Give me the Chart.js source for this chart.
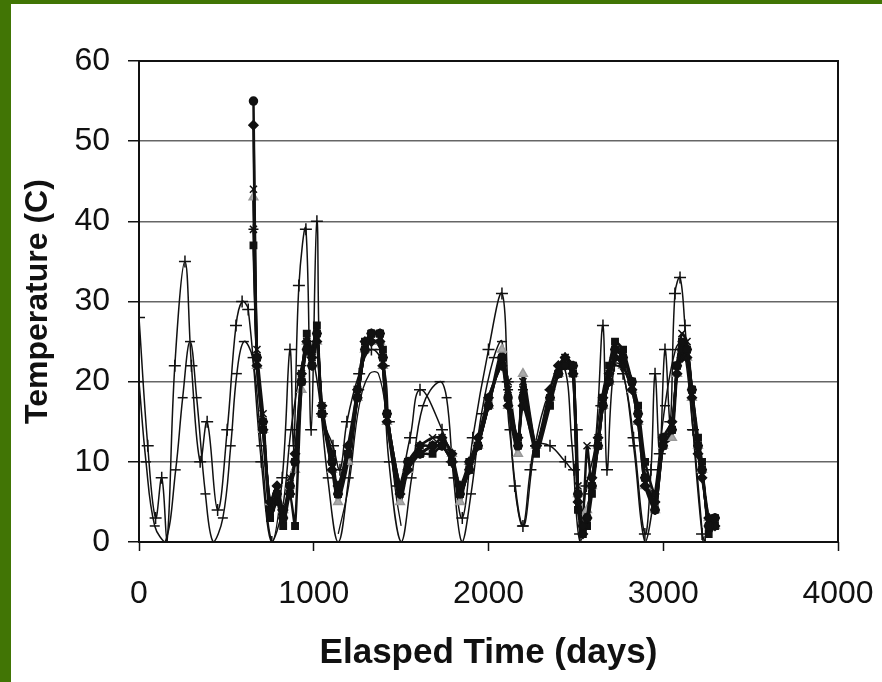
<!DOCTYPE html>
<html>
<head>
<meta charset="utf-8">
<script src="https://cdn.jsdelivr.net/npm/chart.js@4/dist/chart.umd.min.js"></script>
<style>
  html, body { margin: 0; padding: 0; }
  body { background: #417505; width: 882px; height: 682px; overflow: hidden; position: relative; }
  #wrap { position: absolute; left: 11px; top: 4px; width: 871px; height: 678px; background: #fff; }
</style>
</head>
<body>
<div id="wrap"><canvas id="myChart" width="871" height="678"></canvas></div>
<script>
// x axis ticks (days) and y axis ticks (C)
const xTicks = [0, 1000, 2000, 3000, 4000];
const yTicks = [0, 10, 20, 30, 40, 50, 60];

// air temperature (+ markers)
const airDays = [0, 50, 95, 130, 160, 205, 263, 300, 350, 390, 450, 505, 555, 590, 625, 700, 760, 820, 864, 885, 915, 955, 985, 1018, 1047, 1110, 1150, 1190, 1260, 1330, 1400, 1430, 1480, 1551, 1608, 1734, 1790, 1850, 1910, 2000, 2077, 2110, 2150, 2197, 2240, 2272, 2352, 2440, 2490, 2505, 2524, 2560, 2610, 2655, 2678, 2720, 2770, 2830, 2895, 2930, 2953, 2980, 3010, 3040, 3067, 3096, 3124, 3170, 3222, 3240];
const airTemps = [28, 12, 3, 8, 0, 22, 35, 22, 10, 15, 4, 14, 27, 30, 29, 10, 0, 8, 24, 12, 32, 39, 14, 40, 16, 12, 9, 15, 21, 24, 22, 15, 7, 13, 19, 14, 10, 3, 13, 24, 31, 20, 7, 2, 9, 12, 12, 10, 9, 14, 1, 7, 12, 27, 9, 22, 21, 13, 1, 9, 21, 11, 24, 15, 31, 33, 27, 14, 1, 0];

// model prediction (- markers)
const modelDays = [0, 40, 90, 150, 210, 250, 292, 330, 380, 425, 480, 525, 560, 600, 650, 700, 760, 820, 870, 930, 970, 1020, 1080, 1140, 1200, 1260, 1320, 1380, 1430, 1500, 1560, 1625, 1720, 1760, 1800, 1848, 1900, 1960, 2030, 2077, 2120, 2197, 2266, 2350, 2430, 2478, 2524, 2580, 2640, 2700, 2760, 2830, 2896, 2950, 3010, 3070, 3110, 3170, 3228];
const modelTemps = [20, 10, 2, 0, 9, 18, 25, 18, 6, 0, 3, 12, 21, 25, 23, 12, 0, 4, 14, 22, 24, 20, 8, 0, 8, 19, 25, 24, 10, 0, 8, 17, 20, 18, 8, 0, 6, 16, 23, 25, 14, 2, 12, 19, 22, 12, 0, 6, 17, 22, 22, 12, 0, 6, 17, 24, 25, 14, 0];

// second model curve, shallower depth
const model2Days = [1140, 1200, 1260, 1320, 1370, 1420, 1470, 1500];
const model2Temps = [1, 7, 17, 21, 21, 15, 6, 2];

// measured temperatures, one array per sensor
const measDays = [655, 675, 710, 750, 790, 825, 864, 893, 930, 960, 990, 1018, 1047, 1105, 1139, 1196, 1250, 1293, 1330, 1379, 1396, 1419, 1494, 1539, 1608, 1680, 1734, 1791, 1837, 1890, 1940, 2000, 2077, 2112, 2169, 2197, 2272, 2352, 2400, 2438, 2484, 2512, 2540, 2564, 2592, 2627, 2655, 2690, 2724, 2770, 2821, 2856, 2896, 2953, 2999, 3050, 3079, 3107, 3136, 3164, 3199, 3222, 3260, 3296];
const measCircle = [55, 23, 15, 4, 6, 3, 7, 10, 20, 24, 22, 26, 16, 10, 6, 11, 18, 24, 26, 26, 23, 16, 7, 10, 11, 12, 12, 10, 6, 9, 12, 17, 23, 18, 12, 18, 12, 18, 21, 22, 22, 6, 2, 3, 7, 12, 17, 20, 24, 23, 20, 16, 8, 4, 12, 14, 22, 24, 24, 19, 12, 9, 2, 3];
const measDiamond = [52, 22, 14, 5, 7, 4, 6, 11, 21, 25, 23, 25, 17, 9, 7, 12, 19, 25, 25, 25, 22, 15, 6, 9, 12, 12, 13, 11, 7, 10, 13, 18, 22, 17, 13, 17, 12, 19, 22, 23, 21, 5, 1, 3, 8, 13, 18, 21, 23, 22, 19, 15, 7, 5, 13, 15, 21, 23, 23, 18, 11, 8, 3, 2];
const measSquare = [37, 23, 14, 3, 5, 2, 6, 2, 20, 26, 24, 27, 16, 11, 6, 11, 19, 25, 26, 26, 24, 16, 7, 10, 11, 11, 12, 10, 6, 10, 12, 18, 22, 18, 13, 18, 11, 17, 21, 22, 21, 4, 1, 2, 6, 12, 18, 22, 25, 24, 20, 17, 10, 6, 13, 14, 22, 25, 24, 19, 13, 10, 1, 2];
const measTriangle = [43, 22, 14, 5, 6, 4, 7, 9, 19, 25, 24, 25, 16, 9, 5, 10, 18, 24, 25, 25, 22, 15, 5, 9, 11, 12, 12, 11, 5, 10, 12, 17, 24, 17, 11, 21, 12, 18, 21, 22, 21, 6, 3, 4, 7, 12, 17, 20, 23, 22, 19, 15, 7, 4, 12, 13, 21, 24, 23, 18, 12, 9, 3, 2];
const measCross = [44, 24, 16, 4, 6, 3, 8, 10, 21, 25, 23, 26, 17, 10, 6, 11, 18, 24, 26, 26, 23, 16, 6, 10, 12, 13, 13, 11, 6, 9, 12, 17, 23, 20, 12, 20, 12, 18, 21, 23, 22, 7, 3, 12, 7, 13, 17, 21, 24, 23, 20, 16, 8, 5, 12, 14, 22, 26, 25, 19, 12, 9, 2, 3];
const measStar = [39, 23, 15, 4, 6, 3, 7, 10, 20, 24, 22, 26, 16, 10, 6, 11, 18, 24, 26, 26, 23, 16, 7, 10, 11, 12, 12, 10, 6, 9, 12, 17, 23, 19, 12, 19, 12, 18, 21, 23, 22, 6, 2, 3, 7, 12, 17, 20, 24, 23, 20, 16, 8, 4, 12, 14, 22, 24, 24, 19, 12, 9, 2, 3];

function toPoints(days, temps) {
  return days.map((d, i) => ({ x: d, y: temps[i] }));
}

function measured(temps, style, fill, radius) {
  return {
    data: toPoints(measDays, temps),
    showLine: true,
    borderColor: "#111",
    borderWidth: 2.5,
    tension: 0.2,
    pointStyle: style,
    pointRadius: radius,
    pointBackgroundColor: fill,
    pointBorderColor: fill === "#aaa" ? "#999" : "#111",
    pointBorderWidth: 1.5,
  };
}

// plot frame
const framePlugin = {
  id: "frame",
  beforeDatasetsDraw(chart) {
    const { ctx, chartArea } = chart;
    ctx.save();
    ctx.strokeStyle = "#111";
    ctx.lineWidth = 2;
    ctx.strokeRect(chartArea.left, chartArea.top, chartArea.right - chartArea.left, chartArea.bottom - chartArea.top);
    ctx.restore();
  },
};

const font = "'Liberation Sans', Arial, sans-serif";
const ctx = document.getElementById("myChart");

new Chart(ctx, {
  type: "scatter",
  data: {
    datasets: [
      measured(measCircle, "circle", "#111", 4),
      measured(measDiamond, "rectRot", "#111", 4.5),
      measured(measSquare, "rect", "#111", 4.5),
      measured(measTriangle, "triangle", "#aaa", 5),
      measured(measCross, "crossRot", "#111", 5),
      measured(measStar, "star", "#111", 5),
      {
        data: toPoints(model2Days, model2Temps),
        showLine: true,
        borderColor: "#111",
        borderWidth: 1.3,
        tension: 0.4,
        pointStyle: "line",
        pointRadius: 0,
      },
      {
        data: toPoints(modelDays, modelTemps),
        showLine: true,
        borderColor: "#111",
        borderWidth: 1.5,
        tension: 0.4,
        pointStyle: "line",
        pointRadius: 5,
        pointBorderColor: "#111",
        pointBorderWidth: 1.5,
      },
      {
        data: toPoints(airDays, airTemps),
        showLine: true,
        borderColor: "#111",
        borderWidth: 1.5,
        tension: 0.4,
        pointStyle: "cross",
        pointRadius: 6,
        pointBorderColor: "#111",
        pointBorderWidth: 1.5,
      },
    ],
  },
  options: {
    responsive: false,
    animation: false,
    devicePixelRatio: 1,
    layout: { padding: { top: 57, right: 44, left: 0, bottom: 0 } },
    plugins: { legend: { display: false }, tooltip: { enabled: false } },
    scales: {
      x: {
        type: "linear",
        min: xTicks[0],
        max: xTicks[xTicks.length - 1],
        afterFit: (s) => {
          s.height = 140;
          s.paddingLeft = 0;
          s.paddingRight = 0;
        },
        afterBuildTicks: (s) => { s.ticks = xTicks.map((v) => ({ value: v })); },
        border: { display: false },
        grid: { drawOnChartArea: false, drawTicks: true, tickLength: 9, tickColor: "#111", tickWidth: 1.5 },
        ticks: {
          color: "#111",
          font: { family: font, size: 32 },
          padding: 24,
          maxRotation: 0,
          callback: (v) => String(v),
        },
        title: {
          display: true,
          text: "Elasped Time (days)",
          color: "#111",
          font: { family: font, size: 35, weight: "bold" },
          padding: { top: 0, bottom: 8 },
        },
      },
      y: {
        min: yTicks[0],
        max: yTicks[yTicks.length - 1],
        afterFit: (s) => {
          s.width = 128;
          s.paddingTop = 0;
          s.paddingBottom = 0;
        },
        afterBuildTicks: (s) => { s.ticks = yTicks.map((v) => ({ value: v })); },
        border: { display: false },
        grid: { color: "#666", lineWidth: 1.5, tickLength: 11, tickColor: "#111", tickWidth: 1.5 },
        ticks: { color: "#111", font: { family: font, size: 32 }, padding: 18 },
        title: {
          display: true,
          text: "Temperature (C)",
          color: "#111",
          font: { family: font, size: 32, weight: "bold" },
          padding: { top: 8, bottom: 0 },
        },
      },
    },
  },
  plugins: [framePlugin],
});
</script>
</body>
</html>
